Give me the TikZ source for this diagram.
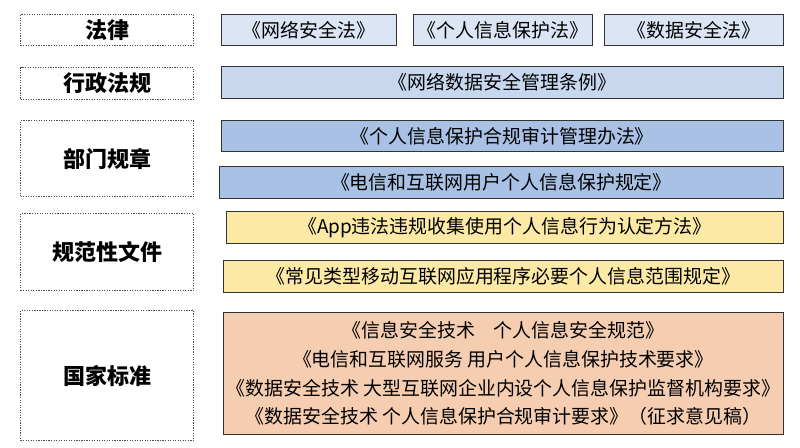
\documentclass[tikz,border=0pt]{standalone}
\usepackage{fontspec}
\setmainfont{Noto Sans CJK SC}
\definecolor{lawblue}{HTML}{DCE5F4}
\definecolor{regblue}{HTML}{C6D7EE}
\definecolor{depblue}{HTML}{A8C1E4}
\definecolor{normyel}{HTML}{FCE9A6}
\definecolor{stdpeach}{HTML}{F5CDB1}
\tikzset{
  levelbox/.style={draw=black!70, densely dotted, line width=0.9pt, font=\fontsize{16.5}{20}\selectfont\bfseries},
  docbox/.style={draw=black!80, line width=0.6pt, font=\fontsize{14.2}{17}\selectfont, align=center}
}
\newcommand{\boxat}[6]{% name, style, x1, y1, x2, y2
  \node[#2, anchor=north west, minimum width=(#5-#3)*0.75pt, minimum height=(#6-#4)*0.75pt, inner sep=0pt] (#1) at (#3,#4)}
\begin{document}
\begin{tikzpicture}[x=0.75pt, y=-0.75pt]
    \useasboundingbox (0,0) rectangle (800,448);

    % levels
    \boxat{law}{levelbox}{20}{14}{193}{45} {法律};
    \boxat{reg}{levelbox}{20}{67}{193}{99} {行政法规};
    \boxat{dep}{levelbox}{20}{120}{193}{196} {部门规章};
    \boxat{norm}{levelbox}{20}{213}{193}{290} {规范性文件};
    \boxat{std}{levelbox}{20}{310}{193}{440} {国家标准};

    % laws
    \boxat{cyber}{docbox, fill=lawblue}{221}{14}{396}{45} {《网络安全法》};
    \boxat{pipl}{docbox, fill=lawblue}{413}{14}{592}{45} {《个人信息保护法》};
    \boxat{dsl}{docbox, fill=lawblue}{604}{14}{783}{45} {《数据安全法》};

    % regulations
    \boxat{netdata}{docbox, fill=regblue}{221}{66}{783}{98} {《网络数据安全管理条例》};

    % department rules
    \boxat{audit}{docbox, fill=depblue}{221}{120}{783}{151} {《个人信息保护合规审计管理办法》};
    \boxat{telecom}{docbox, fill=depblue}{219}{166}{783}{198} {《电信和互联网用户个人信息保护规定》};

    % normative documents
    \boxat{app}{docbox, fill=normyel}{226}{211}{783}{243} {《App违法违规收集使用个人信息行为认定方法》};
    \boxat{mobile}{docbox, fill=normyel}{223}{260}{783}{292} {《常见类型移动互联网应用程序必要个人信息范围规定》};

    % national standards
    \boxat{stdlist}{docbox, fill=stdpeach, font=\fontsize{14.2}{21.7}\selectfont}{223}{312}{783}{434}
      {《信息安全技术\quad 个人信息安全规范》\\《电信和互联网服务 用户个人信息保护技术要求》\\《数据安全技术 大型互联网企业内设个人信息保护监督机构要求》\\《数据安全技术 个人信息保护合规审计要求》（征求意见稿）};
\end{tikzpicture}
\end{document}
